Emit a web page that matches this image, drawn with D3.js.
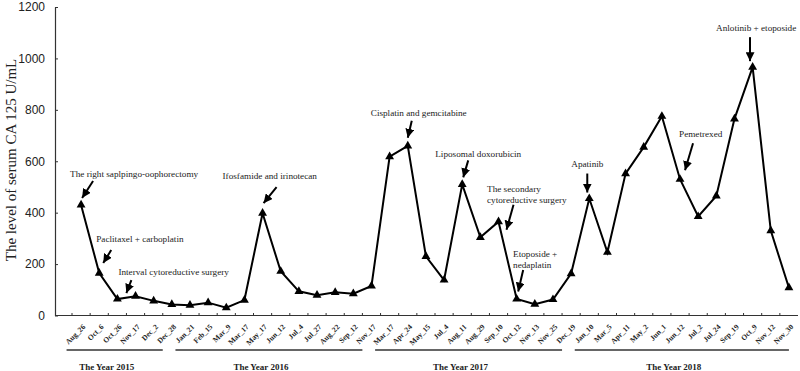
<!DOCTYPE html>
<html>
<head>
<meta charset="utf-8">
<script src="https://cdn.jsdelivr.net/npm/d3@7"></script>
<style>
  body { margin: 0; background: #fff; }
  svg { display: block; }
</style>
</head>
<body>
<div id="chart"></div>
<script>
// sampling dates (labels on the x axis)
const dates = [
  'Aug_26', 'Oct_6', 'Oct_26', 'Nov_17', 'Dec_2', 'Dec_28',
  'Jan_21', 'Feb_15', 'Mar_9', 'Mar_17', 'May_17', 'Jun_12', 'Jul_4', 'Jul_27', 'Aug_22', 'Sep_12', 'Nov_17',
  'Mar_17', 'Apr_24', 'May_15', 'Jul_4', 'Aug_11', 'Aug_29', 'Sep_10', 'Oct_12', 'Nov_13', 'Nov_25', 'Dec_19',
  'Jan_10', 'Mar_5', 'Apr_11', 'May_2', 'Jun_1', 'Jun_12', 'Jul_2', 'Jul_24', 'Sep_19', 'Oct_9', 'Nov_12', 'Nov_30'
];

// serum CA 125 (U/mL)
const ca125 = [
  430, 165, 64, 75, 57, 43,
  40, 50, 30, 60, 398, 172, 94, 79, 90, 85, 115,
  618, 660, 230, 138, 510, 304, 365, 64, 44, 62, 163,
  455, 246, 552, 655, 775, 530, 385, 465, 765, 966, 330, 108
];

const yTicks = [0, 200, 400, 600, 800, 1000, 1200];

// year groups under the axis
const yearNames = ['The Year 2015', 'The Year 2016', 'The Year 2017', 'The Year 2018'];
const yearFirst = [0, 6, 17, 28];
const yearLast = [5, 16, 27, 39];

// treatment notes, tied to the sample they point at
const noteText = [
  ['The right saplpingo-oophorectomy'],
  ['Paclitaxel + carboplatin'],
  ['Interval cytoreductive surgery'],
  ['Ifosfamide and irinotecan'],
  ['Cisplatin and gemcitabine'],
  ['Liposomal doxorubicin'],
  ['The secondary', 'cytoreductive surgery'],
  ['Etoposide +', 'nedaplatin'],
  ['Apatinib'],
  ['Pemetrexed'],
  ['Anlotinib + etoposide']
];
const noteIndex = [0, 1, 2, 10, 18, 21, 23, 24, 28, 33, 37];

// layout of each note relative to its point: arrow start, arrow tip, text
const noteLayout = [
  { ax: 12, ay: -24, ex: 1, ey: -7, tx: -11, ty: -28 },
  { ax: 12, ay: -23, ex: 4, ey: -10, tx: -3, ty: -31 },
  { ax: 14, ay: -19, ex: 9, ey: -6, tx: 1, ty: -24 },
  { ax: 14, ay: -26, ex: 1, ey: -10, tx: -40, ty: -34 },
  { ax: 4, ay: -25, ex: 0, ey: -8, tx: -37, ty: -30 },
  { ax: 6, ay: -24, ex: 1, ey: -7, tx: -27, ty: -27 },
  { ax: 15, ay: -17, ex: 8, ey: 8, tx: -11.5, ty: -30 },
  { ax: 6.5, ay: -29, ex: 1.5, ey: -7.5, tx: -3.6, ty: -42 },
  { ax: -2, ay: -25, ex: -2, ey: -6, tx: -18, ty: -32 },
  { ax: 13, ay: -36, ex: 5, ey: -9, tx: -1, ty: -42 },
  { ax: -2.6, ay: -30, ex: -2.6, ey: -6, tx: -36.6, ty: -36 }
];

const W = 800, H = 371;
const axisX = 55;
const serif = 'Liberation Serif, Times New Roman, serif';

const svg = d3.select('#chart').append('svg')
    .attr('width', W)
    .attr('height', H);

const idx = d3.range(dates.length);

const x = d3.scaleBand().domain(idx).range([72, 798]);
const y = d3.scaleLinear().domain([0, 1200]).range([315.5, 7]);
const cx = i => x(i) + x.bandwidth() / 2;

// arrow head
svg.append('defs').append('marker')
    .attr('id', 'head')
    .attr('markerUnits', 'userSpaceOnUse')
    .attr('viewBox', '0 0 10 10')
    .attr('refX', 10)
    .attr('refY', 5)
    .attr('markerWidth', 9)
    .attr('markerHeight', 9)
    .attr('orient', 'auto')
    .append('path')
    .attr('d', 'M0,0 L10,5 L0,10 Z')
    .attr('fill', '#000');

// y axis
const yAxis = svg.append('g')
    .attr('transform', `translate(${axisX},0)`)
    .call(d3.axisLeft(y).tickValues(yTicks).tickFormat(d3.format('d'))
        .tickSize(-3).tickSizeOuter(0).tickPadding(10));
yAxis.select('.domain').attr('stroke', '#333').attr('stroke-width', 1.2);
yAxis.selectAll('.tick line').attr('stroke', '#333');
yAxis.selectAll('text')
    .attr('font-family', 'Liberation Sans, Arial, sans-serif')
    .attr('font-size', '12px')
    .attr('fill', '#222');

// x axis (labels centred on the samples)
const xAxis = svg.append('g')
    .attr('transform', `translate(0,${y(0)})`)
    .call(d3.axisBottom(x).tickFormat(i => dates[i]).tickSize(0).tickSizeOuter(0));
xAxis.select('.domain').remove();
xAxis.selectAll('text')
    .attr('font-family', serif)
    .attr('font-weight', 'bold')
    .attr('font-size', '7.5px')
    .attr('fill', '#222')
    .attr('text-anchor', 'end')
    .attr('x', 0).attr('y', 0).attr('dy', '0.35em')
    .attr('transform', 'translate(3,10) rotate(-45)');

// axis line and tick marks between samples
svg.append('line')
    .attr('x1', axisX).attr('x2', x.range()[1])
    .attr('y1', y(0)).attr('y2', y(0))
    .attr('stroke', '#333').attr('stroke-width', 1.2);
svg.append('g').selectAll('line')
    .data(idx)
    .join('line')
    .attr('x1', i => x(i)).attr('x2', i => x(i))
    .attr('y1', y(0)).attr('y2', y(0) - 2.5)
    .attr('stroke', '#333');

// y title
svg.append('text')
    .attr('transform', `translate(16,160) rotate(-90)`)
    .attr('text-anchor', 'middle')
    .attr('font-family', serif)
    .attr('font-size', '15px')
    .attr('fill', '#222')
    .text('The level of serum CA 125 U/mL');

// the series
const line = d3.line()
    .x((d, i) => cx(i))
    .y(d => y(d));

svg.append('path')
    .datum(ca125)
    .attr('fill', 'none')
    .attr('stroke', '#000')
    .attr('stroke-width', 2)
    .attr('stroke-linejoin', 'miter')
    .attr('d', line);

svg.append('g').selectAll('path')
    .data(ca125)
    .join('path')
    .attr('d', d3.symbol(d3.symbolTriangle, 34))
    .attr('transform', (d, i) => `translate(${cx(i)},${y(d)})`)
    .attr('fill', '#000');

// notes with arrows
const notes = svg.append('g');
noteText.forEach((lines, k) => {
    const i = noteIndex[k];
    const L = noteLayout[k];
    const px = cx(i), py = y(ca125[i]);
    notes.append('line')
        .attr('x1', px + L.ax).attr('y1', py + L.ay)
        .attr('x2', px + L.ex).attr('y2', py + L.ey)
        .attr('stroke', '#000')
        .attr('stroke-width', 2)
        .attr('marker-end', 'url(#head)');
    const t = notes.append('text')
        .attr('x', px + L.tx)
        .attr('y', py + L.ty)
        .attr('font-family', serif)
        .attr('font-size', '9.2px')
        .attr('fill', '#222');
    lines.forEach((s, j) => {
        t.append('tspan')
            .attr('x', px + L.tx)
            .attr('dy', j === 0 ? 0 : 11)
            .text(s);
    });
});

// year groups
const years = svg.append('g');
yearNames.forEach((name, k) => {
    const bw = x.bandwidth();
    const x1 = cx(yearFirst[k]) - bw * 0.8;
    const x2 = k === yearNames.length - 1 ? cx(yearLast[k]) : cx(yearLast[k]) - bw * 0.5;
    years.append('line')
        .attr('x1', x1).attr('x2', x2)
        .attr('y1', 350).attr('y2', 350)
        .attr('stroke', '#333')
        .attr('stroke-width', 1.5);
    years.append('text')
        .attr('x', (x1 + x2) / 2 - 8)
        .attr('y', 369.5)
        .attr('text-anchor', 'middle')
        .attr('font-family', serif)
        .attr('font-weight', 'bold')
        .attr('font-size', '9px')
        .attr('fill', '#222')
        .text(name);
});
</script>
</body>
</html>
